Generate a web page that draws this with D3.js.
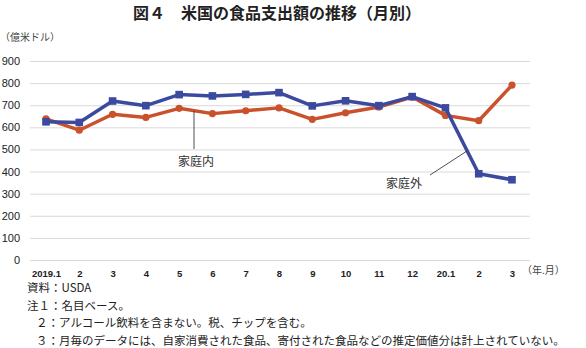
<!DOCTYPE html>
<html><head><meta charset="utf-8">
<script src="https://cdn.jsdelivr.net/npm/d3@7"></script>
<style>
body{margin:0;background:#fff;}
svg{display:block;font-family:"Noto Sans CJK JP","Noto Sans",sans-serif;}
</style></head>
<body><svg id="c" width="586" height="348"></svg>
<script>
const months = ["2019.1","2","3","4","5","6","7","8","9","10","11","12","20.1","2","3"];
const awayFromHome = [625,622,719,698,748,742,749,757,697,720,698,739,688,390,363];
const atHome = [638,587,659,645,686,662,675,688,636,666,692,737,654,630,791];
const yTicks = [0,100,200,300,400,500,600,700,800,900];
const notes = [
  ["資料：USDA", 27],
  ["注１：名目ベース。", 27],
  ["２：アルコール飲料を含まない。税、チップを含む。", 36],
  ["３：月毎のデータには、自家消費された食品、寄付された食品などの推定価値分は計上されていない。", 36]
];

const svg = d3.select("#c");
const blue = "#3b4a9e", red = "#c9512b";
const x = d3.scalePoint().domain(d3.range(months.length)).range([46, 512]);
const y = d3.scaleLinear().domain([0, 900]).range([260, 61]);

svg.append("text").attr("x", 277).attr("y", 19).attr("text-anchor", "middle")
  .attr("font-size", 16).attr("font-weight", "bold").attr("fill", "#222")
  .text("図４　米国の食品支出額の推移（月別）");

svg.append("text").attr("x", 0).attr("y", 41).attr("font-size", 10).attr("fill", "#444")
  .text("（億米ドル）");

// grid
const yAxis = d3.axisLeft(y).tickValues(yTicks).tickSize(-500).tickPadding(10);
const gy = svg.append("g").attr("transform", "translate(30,0)").call(yAxis);
gy.select(".domain").remove();
gy.selectAll(".tick line").attr("stroke", "#d9d9d9").attr("stroke-width", 1);
gy.selectAll(".tick text").attr("font-size", 11).attr("fill", "#222").attr("x", -10)
  .attr("font-family", "Liberation Sans, Arial, sans-serif");

const xAxis = d3.axisBottom(x).tickSize(0).tickPadding(10).tickFormat(i => months[i]);
const gx = svg.append("g").attr("transform", "translate(0,260)").call(xAxis);
gx.select(".domain").remove();
gx.selectAll(".tick text").attr("font-size", 9.5).attr("font-weight", "bold").attr("fill", "#222")
  .attr("font-family", "Liberation Sans, Arial, sans-serif");

svg.append("text").attr("x", 522).attr("y", 274).attr("font-size", 10).attr("fill", "#444")
  .text("（年.月）");

const line = d3.line().x((d, i) => x(i)).y(d => y(d));

svg.append("path").datum(atHome).attr("d", line).attr("fill", "none")
  .attr("stroke", red).attr("stroke-width", 3.5).attr("stroke-linejoin", "round");
svg.selectAll(".dot").data(atHome).join("circle").attr("class", "dot")
  .attr("cx", (d, i) => x(i)).attr("cy", d => y(d)).attr("r", 3.6).attr("fill", red);

svg.append("path").datum(awayFromHome).attr("d", line).attr("fill", "none")
  .attr("stroke", blue).attr("stroke-width", 3.5).attr("stroke-linejoin", "round");
svg.selectAll(".sq").data(awayFromHome).join("rect").attr("class", "sq")
  .attr("x", (d, i) => x(i) - 3.8).attr("y", d => y(d) - 3.8)
  .attr("width", 7.6).attr("height", 7.6).attr("fill", blue);

// annotations
svg.append("line").attr("x1", 194).attr("y1", 111).attr("x2", 194).attr("y2", 149)
  .attr("stroke", "#222").attr("stroke-width", 0.8);
svg.append("text").attr("x", 178).attr("y", 166).attr("font-size", 12).attr("fill", "#333").text("家庭内");

svg.append("line").attr("x1", 430).attr("y1", 175).attr("x2", 467).attr("y2", 151)
  .attr("stroke", "#222").attr("stroke-width", 0.8);
svg.append("text").attr("x", 386).attr("y", 188).attr("font-size", 12).attr("fill", "#333").text("家庭外");

svg.selectAll(".note").data(notes).join("text").attr("class", "note")
  .attr("x", d => d[1]).attr("y", (d, i) => 292 + i * 17.5)
  .attr("font-size", 11.5).attr("fill", "#222").text(d => d[0]);
</script></body></html>
